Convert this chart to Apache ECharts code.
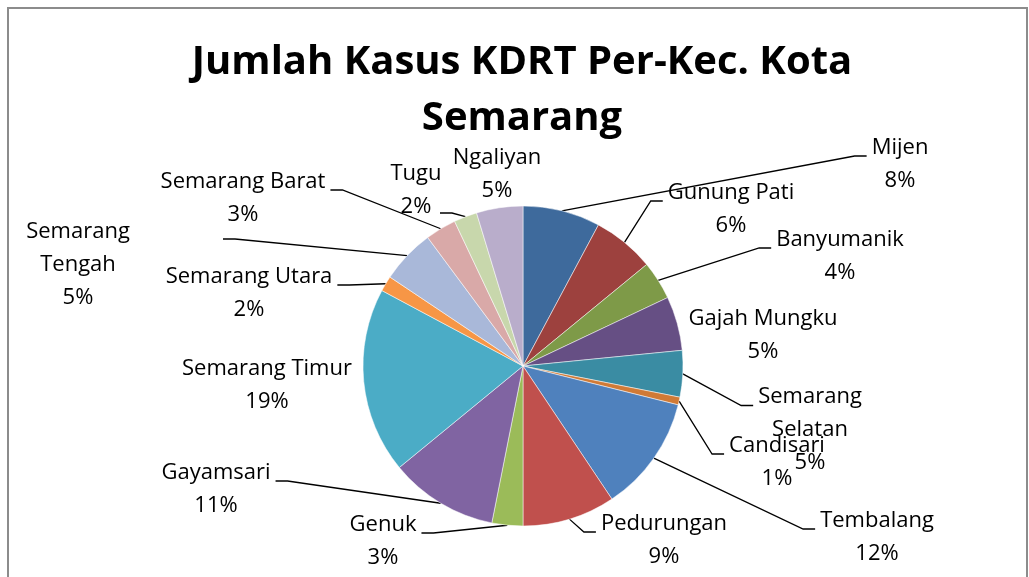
<!DOCTYPE html>
<html>
<head>
<meta charset="utf-8">
<script src="https://cdn.jsdelivr.net/npm/echarts@6/dist/echarts.min.js"></script>
<style>
  html, body { margin: 0; padding: 0; background: #fff; }
  #chart { width: 1029px; height: 577px; }
</style>
</head>
<body>
<div id="chart"></div>
<script>
// kecamatan, clockwise from 12 o'clock
const kecamatan = [
  'Mijen', 'Gunung Pati', 'Banyumanik', 'Gajah Mungku', 'Semarang Selatan',
  'Candisari', 'Tembalang', 'Pedurungan', 'Genuk', 'Gayamsari',
  'Semarang Timur', 'Semarang Utara', 'Semarang Tengah', 'Semarang Barat',
  'Tugu', 'Ngaliyan'
]
// jumlah kasus
const kasus = [10, 8, 5, 7, 6, 1, 15, 12, 4, 14, 24, 2, 7, 4, 3, 6]

const colors = [
  '#3e6a9c', '#9d413e', '#7e9a48', '#664f84', '#3a8ca3', '#d07a36',
  '#4f81bd', '#c0504d', '#9bbb59', '#8064a2', '#4bacc6', '#f79646',
  '#a9b8d9', '#d9a9a8', '#c8d7ac', '#b9adcb'
]

// names that wrap word by word in the label
const wrapNames = ['Semarang Selatan', 'Semarang Tengah']

// label centre [x, y], side of the pie, optional leader end offset from label centre
const labelSpots = [
  [900, 164, 'r'], [731, 209, 'r'], [840, 256, 'r'], [763, 335, null],
  [810, 430, 'r'], [777, 462, 'r'], [877, 537, 'r'], [664, 540, 'r'],
  [383, 541, 'l'], [216, 489, 'l'], [267, 385, null], [249, 293, 'l'],
  [78, 265, 'l', [145, -26]], [243, 198, 'l'], [416, 190, 'l', [24, 23]],
  [497, 174, null]
]

const chart = echarts.init(document.getElementById('chart'))

const option = {
  animation: false,
  color: colors,
  title: {
    text: 'Jumlah Kasus KDRT Per-Kec. Kota\nSemarang',
    left: 522,
    textAlign: 'center',
    top: 35,
    padding: 0,
    textStyle: {
      fontFamily: 'Open Sans',
      fontSize: 40,
      fontWeight: 'bold',
      lineHeight: 56,
      color: '#000'
    }
  },
  graphic: [{
    type: 'rect',
    silent: true,
    shape: { x: 8, y: 8, width: 1019, height: 700 },
    style: { fill: 'none', stroke: '#8c8c8c', lineWidth: 2 }
  }],
  series: [{
    type: 'pie',
    center: [523, 366],
    radius: 160,
    startAngle: 90,
    clockwise: true,
    avoidLabelOverlap: false,
    itemStyle: { borderColor: '#fff', borderWidth: 0.5 },
    label: {
      show: true,
      position: 'outside',
      fontFamily: 'Open Sans',
      fontSize: 22,
      lineHeight: 33,
      color: '#000',
      align: 'center',
      formatter: p => {
        const name = wrapNames.includes(p.name) ? p.name.replace(' ', '\n') : p.name
        return name + '\n' + Math.round(p.percent) + '%'
      }
    },
    labelLine: {
      show: true,
      length: 10,
      length2: 10,
      lineStyle: { color: '#000', width: 1.3 }
    },
    labelLayout: params => {
      const spot = labelSpots[params.dataIndex]
      const w = params.labelRect.width
      const h = params.labelRect.height
      const res = { x: spot[0], y: spot[1], align: 'center', verticalAlign: 'middle' }
      if (spot[2] && params.labelLinePoints) {
        const dir = spot[2] === 'r' ? -1 : 1
        let ex, ey
        if (spot[3]) {
          ex = spot[0] + spot[3][0]
          ey = spot[1] + spot[3][1]
        } else {
          ex = spot[0] + dir * (w / 2 + 5)
          ey = spot[1] - h / 2 + 25
        }
        res.labelLinePoints = [
          params.labelLinePoints[0],
          [ex + dir * 12, ey],
          [ex, ey]
        ]
      }
      return res
    },
    data: kecamatan.map((name, i) => ({
      name: name,
      value: kasus[i],
      labelLine: { show: !!labelSpots[i][2] }
    }))
  }]
}

chart.setOption(option)
</script>
</body>
</html>
